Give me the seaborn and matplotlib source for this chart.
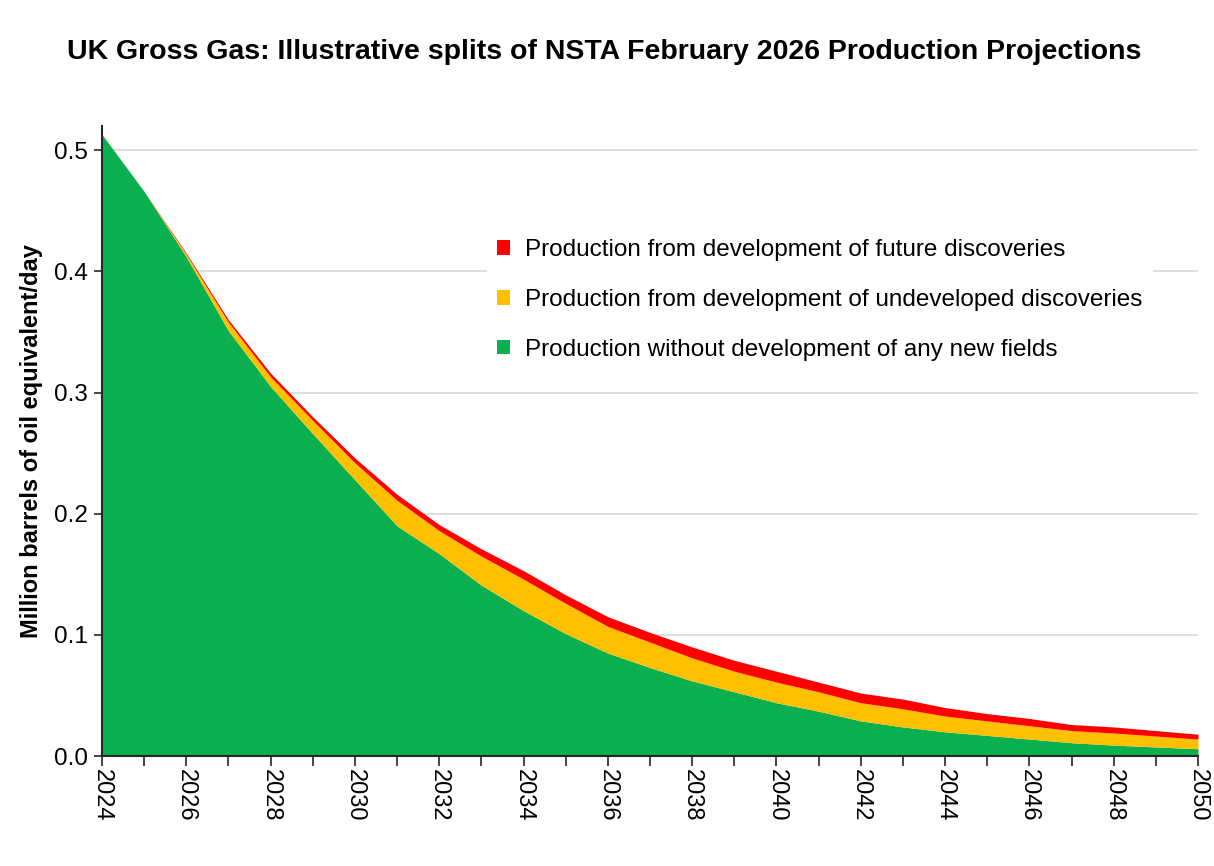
import numpy as np
import pandas as pd
import matplotlib.pyplot as plt
import seaborn as sns

years = list(range(2024, 2051))
no_new_fields = [0.513, 0.466, 0.412, 0.351, 0.305, 0.266, 0.228, 0.190, 0.167, 0.141,
                 0.120, 0.101, 0.085, 0.073, 0.062, 0.053, 0.044, 0.037, 0.029, 0.024,
                 0.020, 0.017, 0.014, 0.011, 0.009, 0.0075, 0.006]
undeveloped = [0.000, 0.000, 0.002, 0.007, 0.008, 0.011, 0.014, 0.021, 0.019, 0.024,
               0.026, 0.025, 0.022, 0.021, 0.019, 0.017, 0.017, 0.016, 0.015, 0.015,
               0.013, 0.012, 0.011, 0.010, 0.010, 0.009, 0.008]
future = [0.000, 0.000, 0.001, 0.002, 0.003, 0.003, 0.004, 0.005, 0.005, 0.006,
          0.007, 0.007, 0.008, 0.008, 0.009, 0.009, 0.009, 0.008, 0.008, 0.008,
          0.007, 0.006, 0.006, 0.005, 0.005, 0.0045, 0.004]

labels = ['Production without development of any new fields',
          'Production from development of undeveloped discoveries',
          'Production from development of future discoveries']
colors = ['#0AAF4F', '#FFC000', '#FF0000']

df = pd.DataFrame({'Year': years, labels[0]: no_new_fields,
                   labels[1]: undeveloped, labels[2]: future})

sns.set_theme(style='white')
plt.rcParams['font.family'] = ['Liberation Sans', 'DejaVu Sans']
plt.rcParams['text.color'] = 'black'

fig = plt.figure(figsize=(12.14, 8.66), dpi=100)
ax = fig.add_axes([0.084, 0.127, 0.9028, 0.7275])

ax.stackplot(df['Year'], df[labels[0]], df[labels[1]], df[labels[2]],
             colors=colors, labels=labels, linewidth=0)

ax.set_xlim(2024, 2050)
ax.set_ylim(0, 0.52)
ax.set_yticks(np.arange(0, 0.51, 0.1))
ax.set_yticklabels(['0.0', '0.1', '0.2', '0.3', '0.4', '0.5'])
ax.set_xticks(range(2024, 2051, 2))
ax.set_xticks(range(2024, 2051), minor=True)
ax.grid(axis='y', color='#d9d9d9', linewidth=1.2, zorder=0)
ax.set_axisbelow(True)

for s in ['top', 'right']:
    ax.spines[s].set_visible(False)
for s in ['left', 'bottom']:
    ax.spines[s].set_color('#262626')
    ax.spines[s].set_linewidth(1.5)
    ax.spines[s].set_zorder(5)

ax.tick_params(axis='y', which='major', left=True, length=6, width=1.2,
               color='#262626', labelsize=17.5, labelcolor='black', pad=4)
ax.tick_params(axis='x', which='both', bottom=True, length=7, width=1.2,
               color='#262626', labelsize=17, labelcolor='black', labelrotation=-90, pad=2)

ax.set_ylabel('Million barrels of oil equivalent/day', fontsize=17,
              fontweight='bold', color='black', labelpad=8)
ax.set_xlabel('')

fig.suptitle('UK Gross Gas: Illustrative splits of NSTA February 2026 Production Projections',
             x=0.498, y=0.955, fontsize=20.5, fontweight='bold', color='black')

handles, lbls = ax.get_legend_handles_labels()
leg = ax.legend(handles[::-1], lbls[::-1], loc='upper left',
                bbox_to_anchor=(0.391, 0.749), bbox_transform=fig.transFigure,
                fontsize=17.5, frameon=True, facecolor='white', edgecolor='white',
                framealpha=1, fancybox=False, handlelength=0.55, handleheight=0.55,
                handletextpad=0.6, labelspacing=1.14, borderpad=0.4, labelcolor='black')

fig.savefig('out.png', dpi=100)
